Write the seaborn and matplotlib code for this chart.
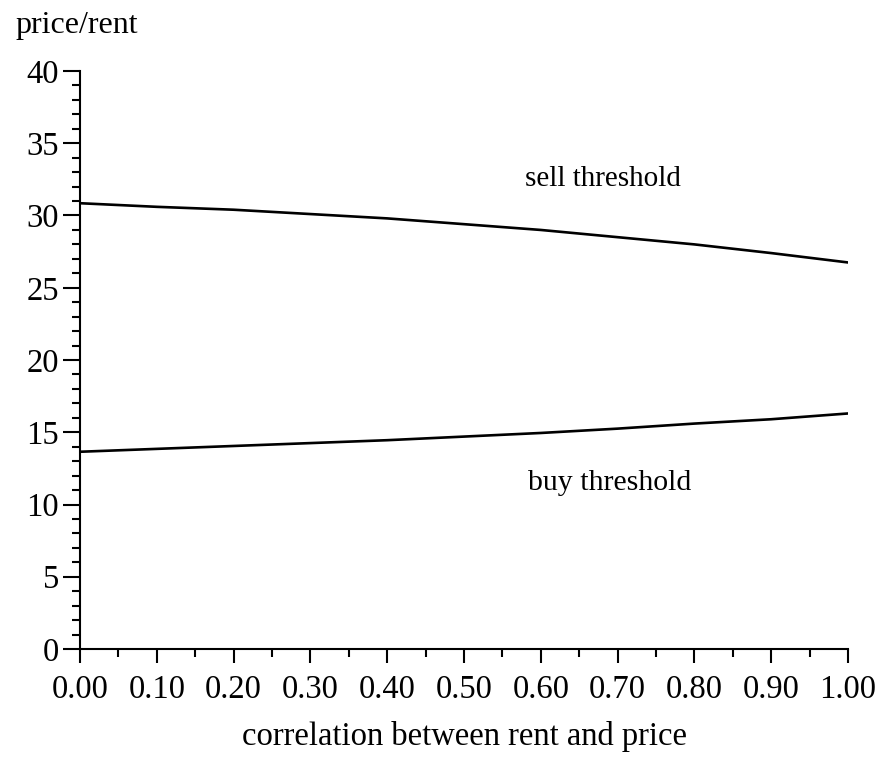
import matplotlib
matplotlib.use("Agg")
import matplotlib.pyplot as plt
import seaborn as sns
import pandas as pd
import numpy as np
from matplotlib.ticker import MultipleLocator, FormatStrFormatter

correlation = [0.0, 0.1, 0.2, 0.3, 0.4, 0.5, 0.6, 0.7, 0.8, 0.9, 1.0]
sell_threshold = [30.85, 30.6, 30.4, 30.1, 29.8, 29.4, 29.0, 28.5, 28.0, 27.4, 26.75]
buy_threshold = [13.65, 13.85, 14.05, 14.25, 14.45, 14.7, 14.95, 15.25, 15.6, 15.9, 16.3]

df = pd.DataFrame({
    "corr": correlation * 2,
    "value": sell_threshold + buy_threshold,
    "series": ["sell"] * len(correlation) + ["buy"] * len(correlation),
})

sns.set_theme(style="ticks")
plt.rcParams["font.family"] = ["Liberation Serif", "DejaVu Serif"]
plt.rcParams["text.color"] = "black"

FS = 23.5
fig = plt.figure(figsize=(8.81, 7.59), dpi=100)
ax = fig.add_axes([80/881, 1-649/759, 768/881, (649-71)/759])

sns.lineplot(data=df, x="corr", y="value", hue="series", palette=["black", "black"],
             linewidth=1.9, legend=False, ax=ax)

ax.set_xlim(0, 1)
ax.set_ylim(0, 40)
ax.xaxis.set_major_locator(MultipleLocator(0.1))
ax.xaxis.set_minor_locator(MultipleLocator(0.05))
ax.xaxis.set_major_formatter(FormatStrFormatter("%.2f"))
ax.yaxis.set_major_locator(MultipleLocator(5))
ax.yaxis.set_minor_locator(MultipleLocator(1))

for s in ["top", "right"]:
    ax.spines[s].set_visible(False)
for s in ["left", "bottom"]:
    ax.spines[s].set_linewidth(1.5)
    ax.spines[s].set_color("black")

ax.tick_params(axis="x", which="major", direction="out", length=10, width=1.5,
               labelsize=FS, colors="black", pad=8)
ax.tick_params(axis="y", which="major", direction="out", length=12, width=1.5,
               labelsize=FS, colors="black", pad=3)
ax.tick_params(axis="both", which="minor", direction="out", length=6, width=1.5, colors="black")

ax.set_xlabel("")
ax.set_ylabel("")

fig.text(15/881, 1-26/759, "price/rent", fontsize=23, ha="left", va="center", color="black")
fig.text(464/881, 1-736/759, "correlation between rent and price", fontsize=FS,
         ha="center", va="center", color="black")
ax.text(0.681, 32.5, "sell threshold", fontsize=21, ha="center", va="center", color="black")
ax.text(0.69, 11.5, "buy threshold", fontsize=21.5, ha="center", va="center", color="black")

fig.savefig("out.png", dpi=100)
